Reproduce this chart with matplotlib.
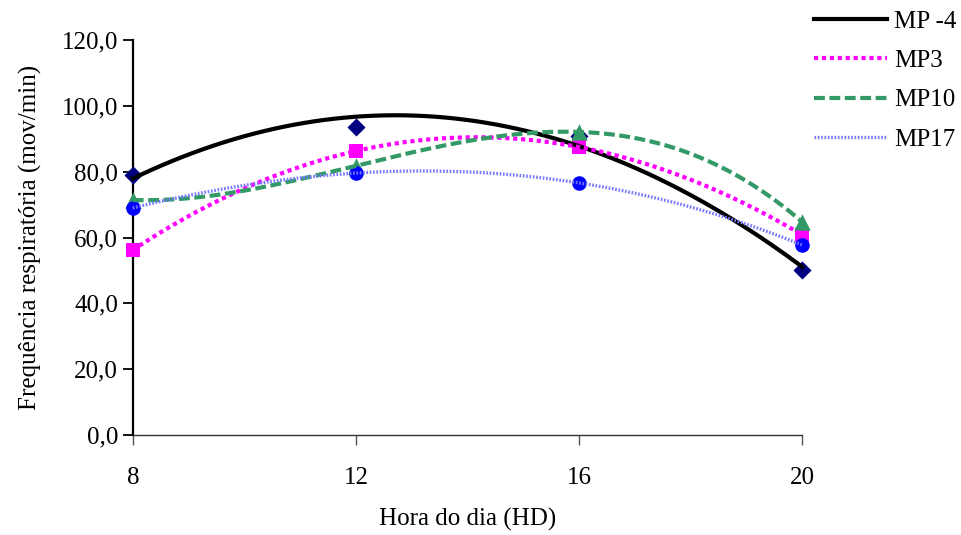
import numpy as np
import matplotlib
matplotlib.use("Agg")
import matplotlib.pyplot as plt
from matplotlib.ticker import FuncFormatter

plt.rcParams['font.family'] = ['Liberation Serif', 'DejaVu Serif']

# Dados: hora do dia x frequência respiratória
horas = [8, 12, 16, 20]
mp_m4 = [79.0, 93.5, 91.0, 50.0]
mp3 = [56.2, 86.3, 87.5, 60.8]
mp10 = [71.4, 81.8, 92.1, 64.7]
mp17 = [69.0, 79.6, 76.6, 57.7]

series = [
    # nome, valores, grau da tendência, cor linha, estilo, largura, cor marcador, marcador, tamanho
    ("MP -4", mp_m4, 2, "black", "-", 3.0, "#000080", "D", 85),
    ("MP3", mp3, 3, "#ff00ff", (0, (1, 0.9)), 3.0, "#ff00ff", "s", 110),
    ("MP10", mp10, 3, "#339966", (0, (2.6, 1.1)), 3.0, "#339966", "^", 140),
    ("MP17", mp17, 3, "#7777ff", (0, (0.5, 0.5)), 2.4, "#0000ff", "o", 110),
]

fig = plt.figure(figsize=(9.62, 5.35), dpi=100)
ax = fig.add_axes([0.138, 0.187, 0.696, 0.738])

xs = np.linspace(8, 20, 200)
handles = []
for i, (nome, vals, grau, cor, estilo, lw, cor_m, marc, tam) in enumerate(series):
    coef = np.polyfit(horas, vals, grau)
    ax.scatter(horas, vals, marker=marc, color=cor_m, s=tam, lw=0,
               zorder=3 + i, clip_on=False)
    ln, = ax.plot(xs, np.polyval(coef, xs), color=cor, linestyle=estilo,
                  lw=lw, zorder=10 + i, clip_on=False, label=nome)
    handles.append(ln)

ax.set_xlim(8, 20)
ax.set_ylim(0, 120)
ax.set_xticks(horas)
ax.set_yticks(np.arange(0, 121, 20))
ax.yaxis.set_major_formatter(FuncFormatter(lambda v, p: f"{v:.1f}".replace(".", ",")))
for s in ["top", "right"]:
    ax.spines[s].set_visible(False)
ax.spines["left"].set_linewidth(1.6)
ax.spines["bottom"].set_linewidth(1.0)
ax.spines["bottom"].set_color("#333333")
ax.tick_params(axis="both", labelsize=18, direction="out", length=7, width=1.3)
ax.tick_params(axis="x", pad=16, width=1.0, color="#555555")

ax.set_xlabel("Hora do dia (HD)", fontsize=18, labelpad=14)
ax.set_ylabel("Frequência respiratória (mov/min)", fontsize=18, labelpad=14)

fig.legend(handles=handles, loc="upper left", bbox_to_anchor=(0.836, 1.0),
           frameon=False, fontsize=18, handlelength=2.9, labelspacing=0.68,
           handletextpad=0.3, borderaxespad=0)

fig.savefig("out.png", dpi=100)
